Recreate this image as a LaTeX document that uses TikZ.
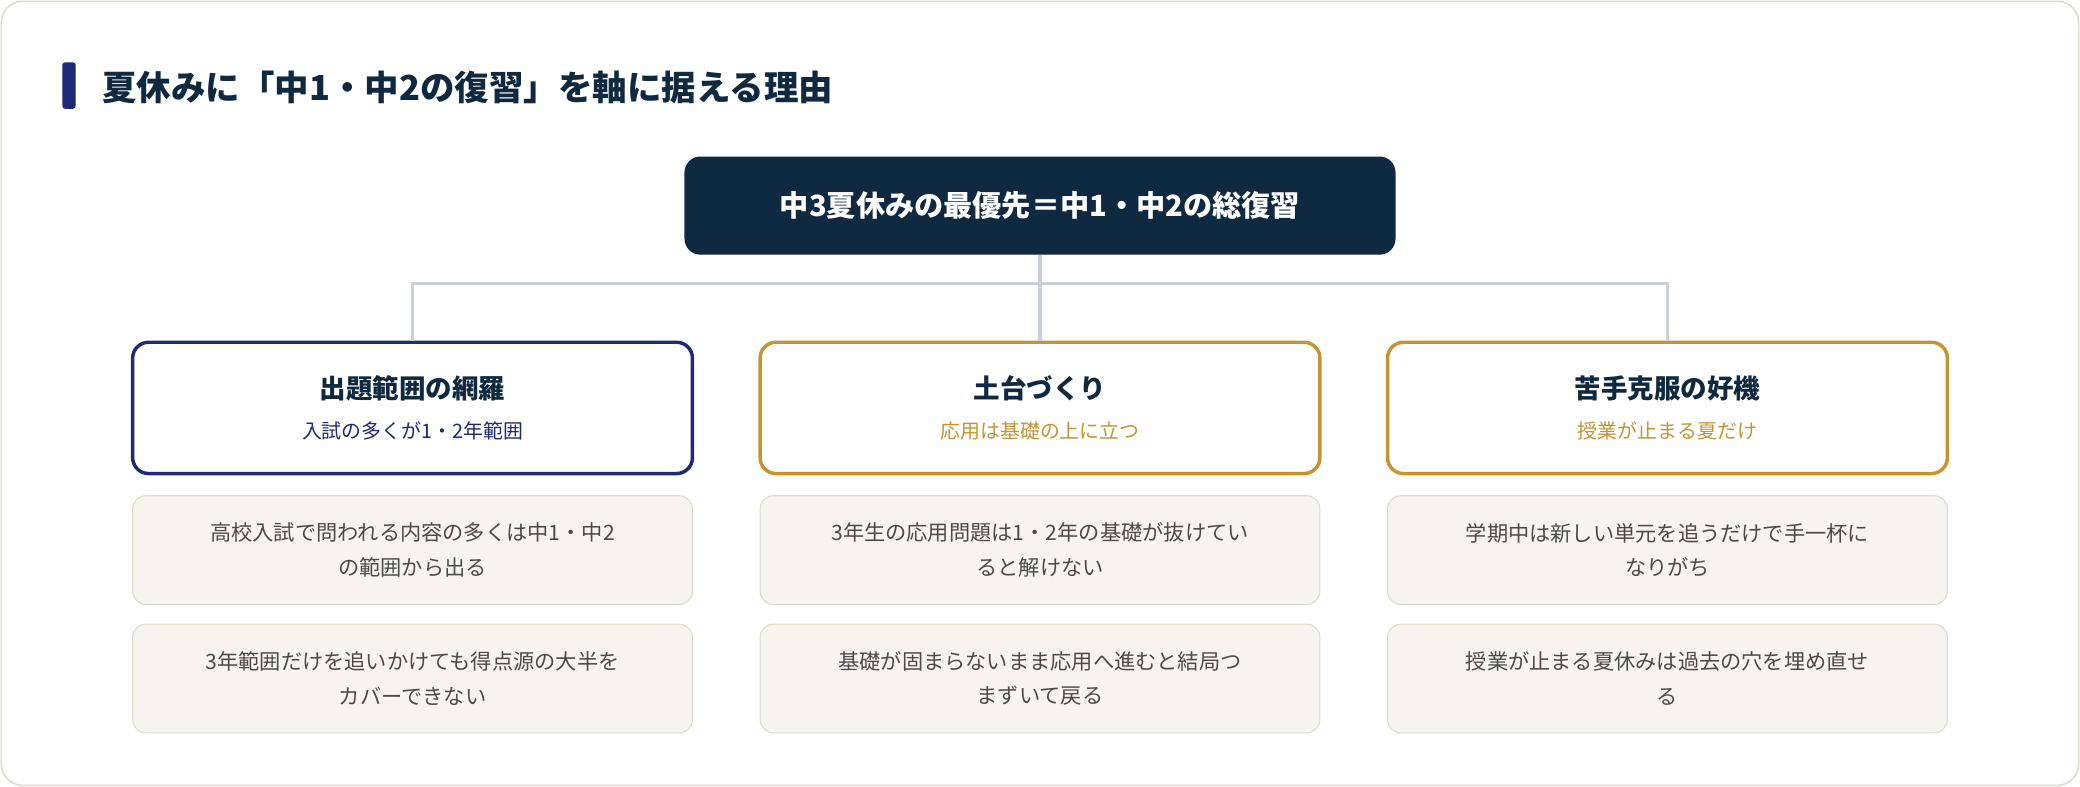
\documentclass[tikz,border=0pt]{standalone}
\usepackage{fontspec}
\setmainfont{Noto Sans CJK JP}
\usetikzlibrary{positioning}
\definecolor{navy}{HTML}{0F2A40}
\definecolor{indigo}{HTML}{1E2A78}
\definecolor{gold}{HTML}{C8922F}
\definecolor{paper}{HTML}{F5F4EF}
\definecolor{paperline}{HTML}{DEDBC8}
\definecolor{linkgray}{HTML}{C9D0DA}
\definecolor{textgray}{HTML}{4A4A4A}
\tikzset{
    % node styles
    root/.style = {rounded corners=6pt, fill=navy, text=white, font=\bfseries\fontsize{11}{13}\selectfont, minimum width=268pt, minimum height=37pt},
    card/.style = {rounded corners=6pt, line width=1.3pt, fill=white, minimum width=211pt, minimum height=49.5pt, align=center},
    blue card/.style = {card, draw=indigo},
    gold card/.style = {card, draw=gold},
    note/.style = {rounded corners=5pt, draw=paperline, fill=paper, text=textgray, minimum width=211pt, minimum height=41pt, align=center, font=\fontsize{8}{13}\selectfont},
    % connector style
    link/.style = {draw=linkgray, line width=1.2pt}
}
\newcommand{\cardtext}[3]{{\bfseries\fontsize{10}{12}\selectfont\color{navy}#1}\\[3pt]{\fontsize{7.5}{9}\selectfont\color{#3}#2}}
\begin{document}
\begin{tikzpicture}[x=0.5pt, y=-0.5pt]
        % frame
        \draw[paperline, line width=0.6pt, fill=white, rounded corners=8pt] (1,1) rectangle (1567,592);
        \useasboundingbox (0,0) rectangle (1568,593);
        % title
        \fill[indigo, rounded corners=1pt] (47,47) rectangle (57,82);
        \node[anchor=west, text=navy, font=\bfseries\fontsize{13}{15}\selectfont] (title) at (70,66) {夏休みに「中1・中2の復習」を軸に据える理由};
        % root
        \node[root] (top) at (784,155) {中3夏休みの最優先＝中1・中2の総復習};
        % cards
        \node[blue card] (c1) at (311,307.5) {\cardtext{出題範囲の網羅}{入試の多くが1・2年範囲}{indigo}};
        \node[gold card] (c2) at (784,307.5) {\cardtext{土台づくり}{応用は基礎の上に立つ}{gold}};
        \node[gold card] (c3) at (1257,307.5) {\cardtext{苦手克服の好機}{授業が止まる夏だけ}{gold}};
        % tree links
        \coordinate (hub) at (784,214);
        \draw[link] (top) -- (hub);
        \draw[link] (c1.north) |- (hub) -| (c3.north);
        \draw[link] (hub) -- (c2.north);
        % notes
        \node[note] (n11) [below=7.5pt of c1] {高校入試で問われる内容の多くは中1・中2\\の範囲から出る};
        \node[note] (n12) [below=7pt of n11] {3年範囲だけを追いかけても得点源の大半を\\カバーできない};
        \node[note] (n21) [below=7.5pt of c2] {3年生の応用問題は1・2年の基礎が抜けてい\\ると解けない};
        \node[note] (n22) [below=7pt of n21] {基礎が固まらないまま応用へ進むと結局つ\\まずいて戻る};
        \node[note] (n31) [below=7.5pt of c3] {学期中は新しい単元を追うだけで手一杯に\\なりがち};
        \node[note] (n32) [below=7pt of n31] {授業が止まる夏休みは過去の穴を埋め直せ\\る};
\end{tikzpicture}
\end{document}
